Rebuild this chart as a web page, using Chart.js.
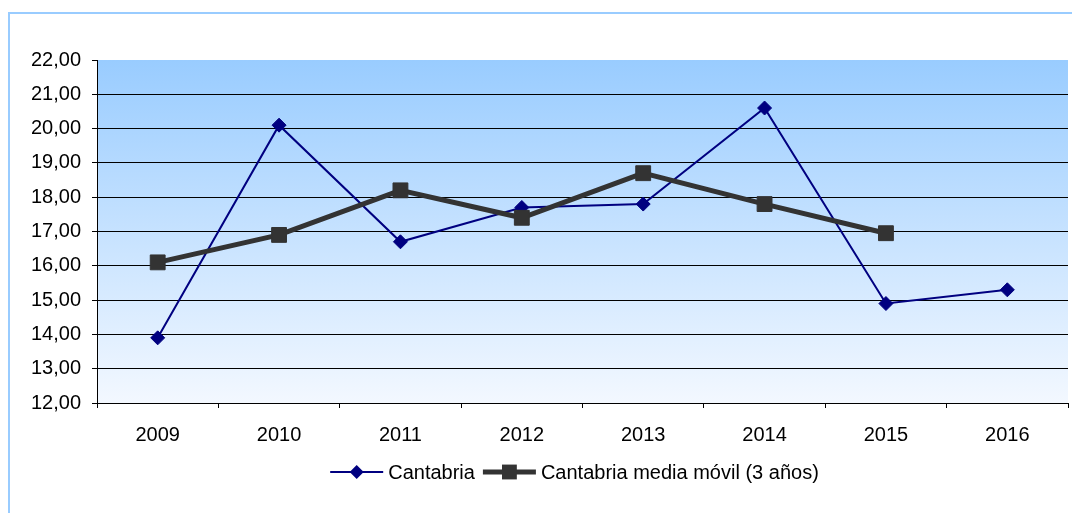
<!DOCTYPE html>
<html>
<head>
<meta charset="utf-8">
<script src="https://cdn.jsdelivr.net/npm/chart.js@4.4.0/dist/chart.umd.min.js"></script>
<style>
  html, body { margin: 0; padding: 0; background: #fff; }
</style>
</head>
<body>
<canvas id="myChart" width="1072" height="513"></canvas>
<script>
const anios = ['2009', '2010', '2011', '2012', '2013', '2014', '2015', '2016'];
const cantabria = [13.9, 20.1, 16.7, 17.7, 17.8, 20.6, 14.9, 15.3];
const mediaMovil = [16.1, 16.9, 18.2, 17.4, 18.7, 17.8, 16.95, null];
const nombres = ['Cantabria', 'Cantabria media móvil (3 años)'];
const ejeYMin = 12;
const ejeYMax = 22;
const ejeYPaso = 1;

const fuente = '"Liberation Sans", Arial, sans-serif';

// fondo degradado del area de trazado y marco exterior
const fondo = {
  id: 'fondo',
  beforeDraw(chart) {
    const { ctx, chartArea: a } = chart;
    ctx.save();
    ctx.strokeStyle = '#99ccff';
    ctx.lineWidth = 2;
    ctx.strokeRect(9, 13, 1200, 700);
    const g = ctx.createLinearGradient(0, a.top, 0, a.bottom);
    g.addColorStop(0, '#99ccff');
    g.addColorStop(1, '#f3f8ff');
    ctx.fillStyle = g;
    ctx.fillRect(a.left, a.top, a.right - a.left, a.bottom - a.top);
    ctx.restore();
  }
};

function marcador(ctx, estilo, x, y, r, color) {
  ctx.fillStyle = color;
  ctx.beginPath();
  if (estilo === 'rectRot') {
    ctx.moveTo(x, y - r);
    ctx.lineTo(x + r, y);
    ctx.lineTo(x, y + r);
    ctx.lineTo(x - r, y);
  } else {
    const s = Math.SQRT1_2 * r;
    ctx.rect(x - s, y - s, 2 * s, 2 * s);
  }
  ctx.closePath();
  ctx.fill();
}

// leyenda con linea + marcador, como en el original
const leyenda = {
  id: 'leyenda',
  afterDraw(chart) {
    const { ctx, chartArea: a } = chart;
    const sets = chart.data.datasets;
    const largo = 53, sep = 5, entre = 8;
    ctx.save();
    ctx.font = '20px ' + fuente;
    const anchos = sets.map(ds => ctx.measureText(ds.label).width);
    let total = 0;
    anchos.forEach(w => total += largo + sep + w);
    total += entre * (sets.length - 1);
    let x = (a.left + a.right) / 2 - 8 - total / 2;
    const y = 472;
    sets.forEach((ds, i) => {
      ctx.strokeStyle = ds.borderColor;
      ctx.lineWidth = ds.borderWidth;
      ctx.beginPath();
      ctx.moveTo(x, y);
      ctx.lineTo(x + largo, y);
      ctx.stroke();
      marcador(ctx, ds.pointStyle, x + largo / 2, y, ds.pointRadius, ds.borderColor);
      ctx.fillStyle = '#000';
      ctx.textBaseline = 'middle';
      ctx.textAlign = 'left';
      ctx.fillText(ds.label, x + largo + sep, y + 1);
      x += largo + sep + anchos[i] + entre;
    });
    ctx.restore();
  }
};

const config = {
  type: 'line',
  data: {
    labels: anios,
    datasets: [
      {
        label: nombres[0],
        data: cantabria,
        borderColor: '#000080',
        backgroundColor: '#000080',
        borderWidth: 2,
        pointStyle: 'rectRot',
        pointRadius: 7,
        pointBorderWidth: 1,
        tension: 0,
        order: 1
      },
      {
        label: nombres[1],
        data: mediaMovil,
        borderColor: '#333333',
        backgroundColor: '#333333',
        borderWidth: 5,
        pointStyle: 'rect',
        pointRadius: 10.5,
        pointBorderWidth: 1,
        tension: 0,
        order: 0
      }
    ]
  },
  options: {
    responsive: false,
    devicePixelRatio: 1,
    animation: false,
    layout: { autoPadding: false, padding: { top: 60, right: 4, left: 0, bottom: 0 } },
    plugins: {
      legend: { display: false },
      tooltip: { enabled: false }
    },
    scales: {
      x: {
        offset: true,
        afterFit: s => { s.height = 110; s.paddingLeft = 0; s.paddingRight = 0; },
        grid: {
          offset: true,
          drawOnChartArea: false,
          drawTicks: true,
          tickLength: 5,
          tickColor: '#000'
        },
        border: { color: '#000', width: 1 },
        ticks: { color: '#000', padding: 15, font: { family: fuente, size: 20 } }
      },
      y: {
        min: ejeYMin,
        max: ejeYMax,
        afterFit: s => { s.width = 97; s.paddingTop = 0; s.paddingBottom = 0; },
        grid: {
          color: c => (c.tick && c.tick.value === ejeYMax) ? 'rgba(0,0,0,0)' : '#000',
          lineWidth: 1,
          tickLength: 5,
          tickColor: '#000'
        },
        border: { color: '#000', width: 1 },
        ticks: {
          stepSize: ejeYPaso,
          color: '#000',
          padding: 11,
          font: { family: fuente, size: 20 },
          callback: v => v.toFixed(2).replace('.', ',')
        }
      }
    }
  },
  plugins: [fondo, leyenda]
};

const ctx = document.getElementById('myChart').getContext('2d');
const myChart = new Chart(ctx, config);
</script>
</body>
</html>
